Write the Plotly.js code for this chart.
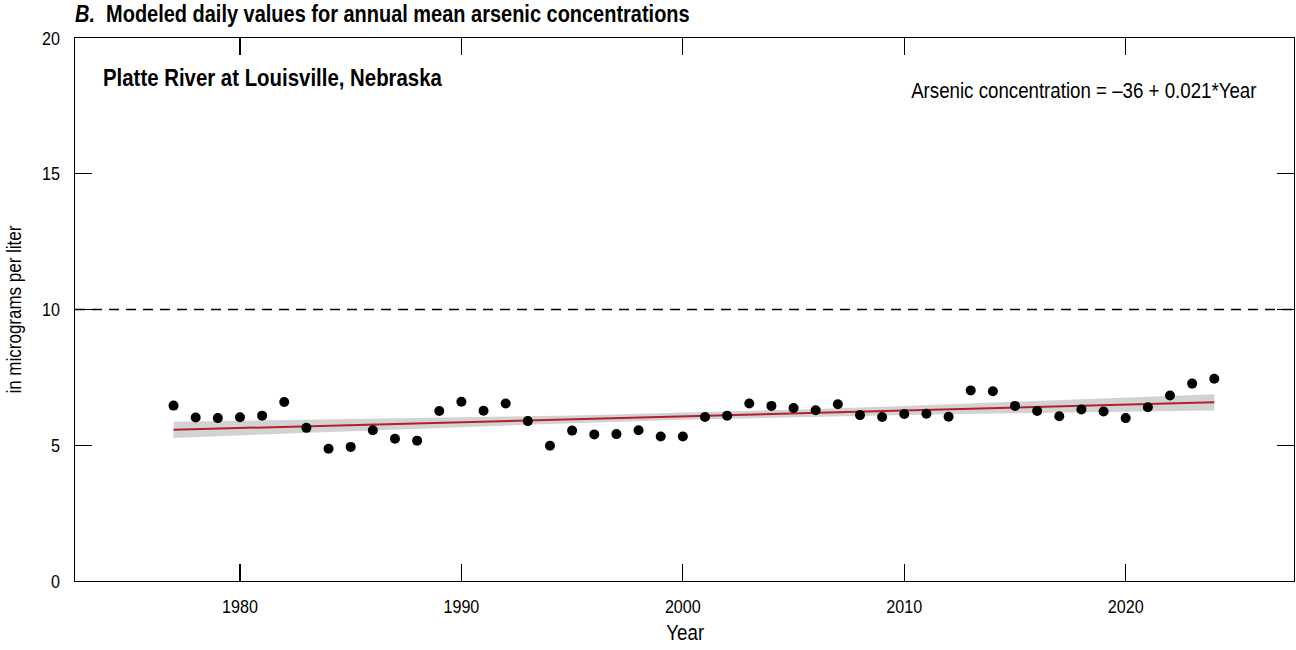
<!DOCTYPE html>
<html>
<head>
<meta charset="utf-8">
<script src="https://cdn.plot.ly/plotly-3.0.1.min.js"></script>
<style>html,body{margin:0;padding:0;background:#fff;}#chart{width:1296px;height:650px;}</style>
</head>
<body>
<div id="chart"></div>
<script>
var years = [1977,1978,1979,1980,1981,1982,1983,1984,1985,1986,1987,1988,1989,1990,1991,1992,1993,1994,1995,1996,1997,1998,1999,2000,2001,2002,2003,2004,2005,2006,2007,2008,2009,2010,2011,2012,2013,2014,2015,2016,2017,2018,2019,2020,2021,2022,2023,2024];
var arsenic = [6.46,6.02,6.00,6.03,6.09,6.59,5.64,4.87,4.94,5.55,5.24,5.17,6.26,6.60,6.27,6.54,5.89,4.98,5.54,5.40,5.41,5.55,5.32,5.32,6.04,6.09,6.54,6.45,6.37,6.29,6.51,6.11,6.04,6.15,6.16,6.05,7.02,6.99,6.45,6.26,6.07,6.32,6.24,6.00,6.40,6.83,7.27,7.45];
var trendYears = [1977, 2024];
var trendValues = [5.57, 6.58];
var bandYears = [1977,1985,1990,1995,2000,2005,2010,2015,2020,2024];
var bandLower = [5.27,5.52,5.67,5.81,5.94,6.03,6.11,6.18,6.24,6.28];
var bandUpper = [5.87,5.96,6.03,6.10,6.20,6.31,6.45,6.60,6.75,6.88];
var standardLevel = 10;
var xTicks = [1980,1990,2000,2010,2020];
var yTicks = [0,5,10,15,20];

var FONT = '"Liberation Sans",Arial,sans-serif';
var CONDENSE = 0.85;

var bandX = bandYears.concat(bandYears.slice().reverse());
var bandY = bandUpper.concat(bandLower.slice().reverse());

var traces = [
  {x: bandX, y: bandY, type: 'scatter', mode: 'lines', fill: 'toself',
   fillcolor: '#d2d2d2', line: {width: 0, color: '#d2d2d2'}, hoverinfo: 'skip', showlegend: false},
  {x: trendYears, y: trendValues, type: 'scatter', mode: 'lines',
   line: {color: '#b3202a', width: 2}, showlegend: false},
  {x: years, y: arsenic, type: 'scatter', mode: 'markers',
   marker: {color: '#000', size: 10}, showlegend: false}
];

var axisCommon = {
  showgrid: false, zeroline: false, showline: true, linecolor: '#000', linewidth: 1.3,
  mirror: 'ticks', ticks: 'inside', ticklen: 17, tickwidth: 1.3, tickcolor: '#000',
  tickfont: {family: FONT, size: 19, color: '#000'}
};

var layout = {
  width: 1296, height: 650,
  margin: {l: 75, r: 2, t: 38, b: 69},
  paper_bgcolor: '#fff', plot_bgcolor: '#fff',
  xaxis: Object.assign({}, axisCommon, {
    range: [1972.55, 2027.6], tickvals: xTicks, ticktext: xTicks.map(String),
    ticklabelstandoff: 8
  }),
  yaxis: Object.assign({}, axisCommon, {
    range: [0, 20], tickvals: yTicks, ticktext: yTicks.map(String),
    ticklabelstandoff: 10
  }),
  shapes: [
    {type: 'line', xref: 'paper', x0: 0, x1: 1, yref: 'y', y0: standardLevel, y1: standardLevel,
     line: {color: '#000', width: 1.4, dash: '10px,7px'}}
  ],
  annotations: [
    {xref: 'paper', yref: 'paper', x: 0, y: 1, xanchor: 'left', yanchor: 'middle',
     xshift: -2, yshift: 24, showarrow: false, align: 'left',
     text: '<b><i>B.</i>  Modeled daily values for annual mean arsenic concentrations</b>',
     font: {family: FONT, size: 23.5, color: '#000'}},
    {xref: 'paper', yref: 'paper', x: 0, y: 1, xanchor: 'left', yanchor: 'middle',
     xshift: 26, yshift: -39, showarrow: false, align: 'left',
     text: '<b>Platte River at Louisville, Nebraska</b>',
     font: {family: FONT, size: 24, color: '#000'}},
    {xref: 'paper', yref: 'paper', x: 1, y: 1, xanchor: 'right', yanchor: 'middle',
     xshift: -36, yshift: -52, showarrow: false, align: 'right',
     text: 'Arsenic concentration = \u201336 + 0.021*Year',
     font: {family: FONT, size: 22, color: '#000'}},
    {xref: 'paper', yref: 'paper', x: 0.5, y: 0, xanchor: 'center', yanchor: 'middle',
     yshift: -51, showarrow: false, text: 'Year',
     font: {family: FONT, size: 22, color: '#000'}},
    {xref: 'paper', yref: 'paper', x: 0, y: 0.5, xanchor: 'center', yanchor: 'middle',
     xshift: -61, showarrow: false, textangle: -90, text: 'in micrograms per liter',
     font: {family: FONT, size: 20, color: '#000'}}
  ]
};

Plotly.newPlot('chart', traces, layout, {staticPlot: true, displayModeBar: false}).then(function (gd) {
  // emulate a condensed typeface by narrowing every text horizontally around its anchor
  gd.querySelectorAll('svg text').forEach(function (t) {
    var bb;
    try { bb = t.getBBox(); } catch (e) { return; }
    if (!bb || !bb.width) return;
    var anchor = t.getAttribute('text-anchor') || window.getComputedStyle(t).textAnchor || 'start';
    var ax = anchor === 'middle' ? bb.x + bb.width / 2 : (anchor === 'end' ? bb.x + bb.width : bb.x);
    var tr = t.getAttribute('transform') || '';
    t.setAttribute('transform', tr + ' translate(' + ax + ',0) scale(' + CONDENSE + ',1) translate(' + (-ax) + ',0)');
  });
});
</script>
</body>
</html>
